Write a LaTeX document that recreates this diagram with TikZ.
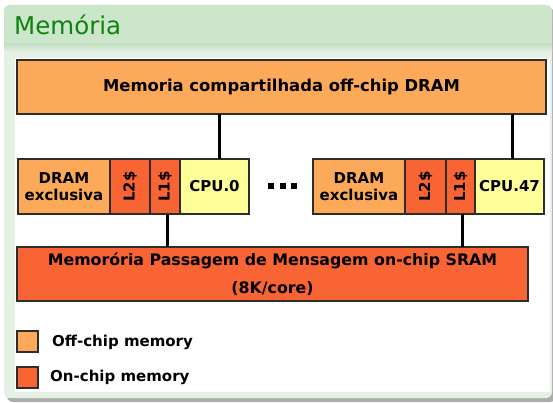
\documentclass[tikz,border=0pt]{standalone}
\usepackage{fontspec}
\setmainfont{DejaVu Sans}
\usetikzlibrary{calc}

\definecolor{offchip}{RGB}{252,170,90}
\definecolor{onchip}{RGB}{248,100,52}
\definecolor{cpucol}{RGB}{255,255,153}
\definecolor{boxline}{RGB}{45,45,45}
\definecolor{blocktitle}{RGB}{204,230,204}
\definecolor{blockbody}{RGB}{230,241,230}
\definecolor{titletext}{RGB}{16,130,16}

\begin{document}
\begin{tikzpicture}[x=1pt,y=-1pt,
  box/.style={draw=boxline, line width=1.3pt, inner sep=0pt, outer sep=0pt,
    anchor=north west, align=center,
    font=\bfseries\fontsize{15}{20}\selectfont},
  offbox/.style={box, fill=offchip},
  onbox/.style={box, fill=onchip},
  cpubox/.style={box, fill=cpucol},
  conn/.style={line width=3pt, black},
  dotmark/.style={fill=black, inner sep=0pt, minimum size=6pt},
  legtext/.style={anchor=west, inner sep=0pt, font=\bfseries\fontsize{15}{18}\selectfont}]

\useasboundingbox (0,0) rectangle (553,403);

% block frame: shadow, body, title band, white drawing area
\fill[gray!65, rounded corners=6pt] (7,9) rectangle (556,402);
\fill[blockbody, rounded corners=6pt] (4,5) rectangle (552,398);
\fill[blocktitle, rounded corners=6pt] (4,5) rectangle (552,30);
\fill[blocktitle] (4,20) rectangle (552,44);
\shade[top color=blocktitle!92!black!40!blocktitle, bottom color=blockbody] (4,44) rectangle (552,52);
\fill[white] (15,58) rectangle (550,392);
\node[anchor=west, inner sep=0pt, text=titletext,
  font=\fontsize{24.5}{28}\selectfont] (title) at (14,25) {Memória};

% shared off-chip memory
\node[offbox, minimum width=529pt, minimum height=54pt,
  font=\bfseries\fontsize{16.4}{20}\selectfont] (top) at (17,60)
  {Memoria compartilhada off-chip DRAM};

% core 0
\node[offbox, minimum width=92pt, minimum height=55pt] (dram0) at (18,159)
  {DRAM\\[-3pt]exclusiva};
\node[onbox, minimum width=40pt, minimum height=55pt] (l2a) at (110,159)
  {\rotatebox{90}{L2\$}};
\node[onbox, minimum width=30pt, minimum height=55pt] (l1a) at (150,159)
  {\rotatebox{90}{L1\$}};
\node[cpubox, minimum width=69pt, minimum height=55pt] (cpu0) at (180,159)
  {CPU.0};

% ellipsis between the cores
\foreach \i/\x in {1/271,2/283,3/294}
  \node[dotmark] (dot\i) at (\x,186) {};

% core 47
\node[offbox, minimum width=92pt, minimum height=55pt] (dram1) at (313,159)
  {DRAM\\[-3pt]exclusiva};
\node[onbox, minimum width=41pt, minimum height=55pt] (l2b) at (405,159)
  {\rotatebox{90}{L2\$}};
\node[onbox, minimum width=29pt, minimum height=55pt] (l1b) at (446,159)
  {\rotatebox{90}{L1\$}};
\node[cpubox, minimum width=69pt, minimum height=55pt] (cpu47) at (475,159)
  {CPU.47};

% on-chip message passing buffer
\node[onbox, minimum width=511pt, minimum height=54pt,
  font=\bfseries\fontsize{15.8}{20}\selectfont] (bottom) at (17,247)
  {Memorória Passagem de Mensagem on-chip SRAM\\[8pt](8K/core)};

% connections
\draw[conn] ([xshift=5pt]cpu0.north) -- ([xshift=5pt]cpu0.north |- top.south);
\draw[conn] ([xshift=2.5pt]cpu47.north) -- ([xshift=2.5pt]cpu47.north |- top.south);
\draw[conn] ([xshift=2pt]l1a.south) -- ([xshift=2pt]l1a.south |- bottom.north);
\draw[conn] ([xshift=2pt]l1b.south) -- ([xshift=2pt]l1b.south |- bottom.north);

% legend
\node[offbox, minimum width=21pt, minimum height=21pt] (leg1) at (17,331) {};
\node[legtext] (leg1t) at (52,342) {Off-chip memory};
\node[onbox, minimum width=21pt, minimum height=21pt] (leg2) at (17,367) {};
\node[legtext] (leg2t) at (50,377) {On-chip memory};

\end{tikzpicture}
\end{document}
